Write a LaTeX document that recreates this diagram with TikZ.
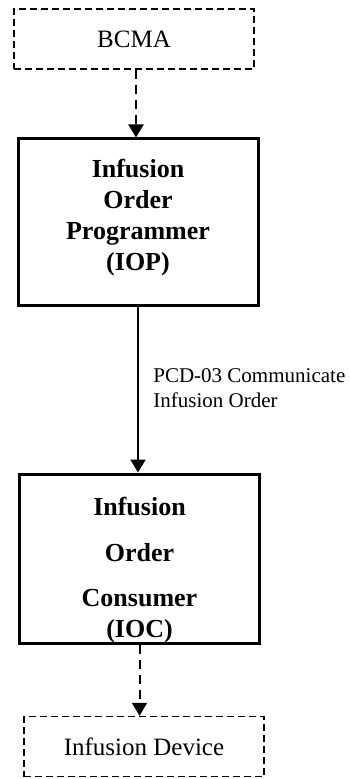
\documentclass[tikz,border=0pt]{standalone}
\usepackage{fontspec}
\setmainfont{Liberation Serif}
\usetikzlibrary{arrows.meta, positioning}

\begin{document}
\begin{tikzpicture}[x=0.5pt, y=-0.5pt,
    actorbox/.style={draw, line width=1.5pt, minimum width=120pt, inner sep=0pt},
    extbox/.style={draw, line width=0.7pt, dash pattern=on 3.5pt off 2pt, minimum width=120pt, minimum height=30pt, inner sep=0pt, font=\fontsize{12.5}{15}\selectfont},
    actorname/.style={align=center, inner sep=0pt, font=\fontsize{13}{15.5}\selectfont\bfseries},
    flow/.style={line width=1pt, -{Triangle[length=6.5pt, width=7.5pt]}},
    optflow/.style={flow, dash pattern=on 4.5pt off 3pt}]
    \useasboundingbox (0,0) rectangle (349,779);

    \node[extbox] (bcma) at (134,39) {BCMA};
    \node[actorbox, minimum height=83.5pt] (iop) at (138,222.5) {};
    \node[actorname, anchor=north] (iopName) at (138,159) {Infusion\\Order\\Programmer\\(IOP)};
    \node[actorbox, minimum height=84.5pt] (ioc) at (139.5,558.5) {};
    \node[actorname, anchor=north] (iocName) at (139.5,497) {Infusion\\[7.5pt]Order\\[7pt]Consumer\\[0pt](IOC)};
    \node[extbox] (device) at (144,746.5) {Infusion Device};
    \node[align=left, anchor=west, inner sep=0pt, font=\fontsize{10.5}{12.5}\selectfont] (pcd) at (153,388) {PCD-03 Communicate\\Infusion Order};

    \draw[optflow] (iop.north |- bcma.south) ++(-2,0) -- ([xshift=-1pt]iop.north);
    \draw[flow] (iop.south) -- (iop.south |- ioc.north);
    \draw[optflow] (ioc.south) -- (ioc.south |- device.north);
\end{tikzpicture}
\end{document}
